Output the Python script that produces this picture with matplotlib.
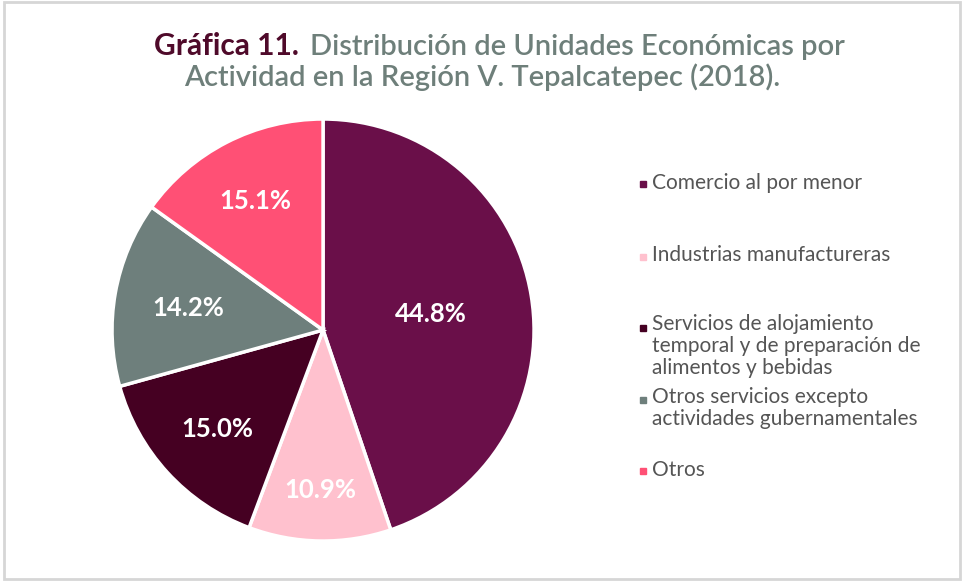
import matplotlib.pyplot as plt
import numpy as np
from matplotlib.patches import Rectangle

# data
categorias = [
    "Comercio al por menor",
    "Industrias manufactureras",
    "Servicios de alojamiento\ntemporal y de preparación de\nalimentos y bebidas",
    "Otros servicios excepto\nactividades gubernamentales",
    "Otros",
]
porcentajes = [44.8, 10.9, 15.0, 14.2, 15.1]
colores = ["#6A0F49", "#FFC1CE", "#450022", "#6E7F7C", "#FF5075"]

# label distance from center (fraction of radius), per slice
label_dist = [0.52, 0.75, 0.68, 0.65, 0.70]

plt.rcParams["font.family"] = ["Lato", "DejaVu Sans"]

fig = plt.figure(figsize=(9.64, 5.82), dpi=100)

# light border around the whole figure
fig.patches.append(Rectangle((0.004, 0.006), 0.992, 0.99, transform=fig.transFigure,
                             fill=False, edgecolor="#D6D6D6", linewidth=2))

# title
fig.text(0.160, 0.906, "Gráfica 11.", fontsize=21.5, fontweight="bold", color="#4F0A2A",
         va="baseline", ha="left")
fig.text(0.322, 0.906, "Distribución de Unidades Económicas por", fontsize=21,
         fontweight="semibold", color="#6E7F7A", va="baseline", ha="left")
fig.text(0.5, 0.853, "Actividad en la Región V. Tepalcatepec (2018).", fontsize=21,
         fontweight="semibold", color="#6E7F7A", va="baseline", ha="center")

# pie
ax = fig.add_axes([0.1162, 0.0704, 0.4378, 0.7251])
wedges, _ = ax.pie(porcentajes, colors=colores, startangle=90, counterclock=False,
                   wedgeprops=dict(edgecolor="white", linewidth=2.5))
ax.set_xlim(-1.0, 1.0)
ax.set_ylim(-1.0, 1.0)
ax.set_aspect("equal")

for w, p, d in zip(wedges, porcentajes, label_dist):
    ang = np.deg2rad((w.theta1 + w.theta2) / 2)
    ax.text(d * np.cos(ang), d * np.sin(ang), f"{p:.1f}%", ha="center",
            va="center_baseline", fontsize=18.5, fontweight="bold", color="white")

# legend drawn by hand
legend_y = [0.684, 0.560, 0.438, 0.313, 0.191]
for cat, col, y in zip(categorias, colores, legend_y):
    fig.patches.append(Rectangle((0.664, y - 0.006), 0.0062, 0.0103,
                                 transform=fig.transFigure, color=col))
    if "\n" in cat:
        fig.text(0.676, y + 0.022, cat, fontsize=15, color="#555555", va="top",
                 ha="left", linespacing=1.13)
    else:
        fig.text(0.676, y + 0.001, cat, fontsize=15, color="#555555", va="center",
                 ha="left")

plt.savefig("out.png", dpi=100)
